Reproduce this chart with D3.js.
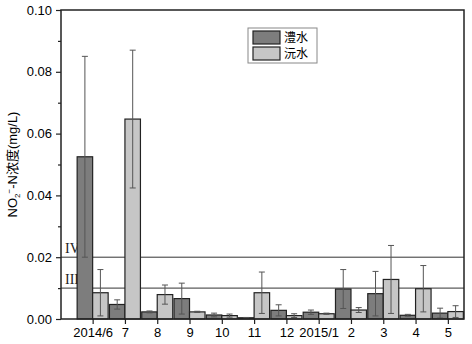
<!DOCTYPE html>
<html>
<head>
<meta charset="utf-8">
<script src="https://cdn.jsdelivr.net/npm/d3@7"></script>
<style>
  body { margin: 0; background: #fff; }
  text { font-family: Arial, "Liberation Sans", sans-serif; }
</style>
</head>
<body>
<svg id="chart" width="472" height="344"></svg>
<script>
// categories along the x axis
var months = ["2014/6", "7", "8", "9", "10", "11", "12", "2015/1", "2", "3", "4", "5"];
// 澧水 (dark) and 沅水 (light) means, with error half-widths
var liValues = [0.0525, 0.0047, 0.0023, 0.0066, 0.0013, 0.0004, 0.0028, 0.0022, 0.0097, 0.0082, 0.0012, 0.0019];
var liErrors = [0.0325, 0.0015, 0.0003, 0.0050, 0.0006, 0.0001, 0.0018, 0.0007, 0.0063, 0.0072, 0.0003, 0.0016];
var yuanValues = [0.0085, 0.0647, 0.0079, 0.0023, 0.0011, 0.0085, 0.0011, 0.0017, 0.0029, 0.0128, 0.0098, 0.0024];
var yuanErrors = [0.0075, 0.0223, 0.0031, 0.0002, 0.0005, 0.0067, 0.0006, 0.0002, 0.0008, 0.0110, 0.0075, 0.0019];
var seriesNames = ["澧水", "沅水"];
var yTicks = [0, 0.02, 0.04, 0.06, 0.08, 0.10];
var limits = [{label: "IV", value: 0.02}, {label: "III", value: 0.01}];

var svg = d3.select("#chart"),
    margin = {top: 10, right: 8, bottom: 25, left: 61},
    width = +svg.attr("width") - margin.left - margin.right,
    height = +svg.attr("height") - margin.top - margin.bottom,
    g = svg.append("g").attr("transform", "translate(" + margin.left + "," + margin.top + ")");

var x = d3.scaleLinear().domain([-0.98, 11.5]).range([0, width]);
var y = d3.scaleLinear().domain([0, 0.10]).range([height, 0]);
var step = x(1) - x(0),
    barW = step * 0.48;

var colors = ["#7d7d7d", "#c6c6c6"];
var series = [
  {values: liValues, errors: liErrors, offset: -barW},
  {values: yuanValues, errors: yuanErrors, offset: 0}
];

// limit lines
g.selectAll(".limit")
    .data(limits)
    .enter().append("line")
    .attr("x1", 0).attr("x2", width)
    .attr("y1", function (d) { return y(d.value); })
    .attr("y2", function (d) { return y(d.value); })
    .attr("stroke", "#333").attr("stroke-width", 1);

g.selectAll(".limit-label")
    .data(limits)
    .enter().append("text")
    .attr("x", 4)
    .attr("y", function (d) { return y(d.value) - 4; })
    .attr("font-size", 14)
    .attr("fill", "#222")
    .style("font-family", "'Liberation Serif', serif")
    .text(function (d) { return d.label; });

// bars
series.forEach(function (s, k) {
  g.append("g").selectAll("rect")
      .data(s.values)
      .enter().append("rect")
      .attr("x", function (d, i) { return x(i) + s.offset; })
      .attr("y", function (d) { return y(d); })
      .attr("width", barW)
      .attr("height", function (d) { return y(0) - y(d); })
      .attr("fill", colors[k])
      .attr("stroke", "#222")
      .attr("stroke-width", 1.2);

  var eb = g.append("g").attr("stroke", "#555").attr("stroke-width", 1);
  s.values.forEach(function (v, i) {
    var cx = x(i) + s.offset + barW / 2,
        hi = y(v + s.errors[i]),
        lo = y(Math.max(0, v - s.errors[i]));
    eb.append("line").attr("x1", cx).attr("x2", cx).attr("y1", hi).attr("y2", lo);
    eb.append("line").attr("x1", cx - 3).attr("x2", cx + 3).attr("y1", hi).attr("y2", hi);
    eb.append("line").attr("x1", cx - 3).attr("x2", cx + 3).attr("y1", lo).attr("y2", lo);
  });
});

// frame
g.append("rect")
    .attr("width", width).attr("height", height)
    .attr("fill", "none").attr("stroke", "#222").attr("stroke-width", 1.5);

// y axis
var yAxis = g.append("g")
    .call(d3.axisLeft(y).tickValues(yTicks).tickFormat(d3.format(".2f")).tickSize(5).tickPadding(4));
yAxis.select(".domain").remove();
yAxis.selectAll("text").attr("font-size", 13).attr("fill", "#000").style("font-family", "Arial, 'Liberation Sans'");
yAxis.selectAll("line").attr("stroke", "#222").attr("stroke-width", 1.2);
g.append("g")
    .call(d3.axisLeft(y).tickValues([0.01, 0.03, 0.05, 0.07, 0.09]).tickFormat("").tickSize(3))
    .call(function (a) { a.select(".domain").remove(); a.selectAll("line").attr("stroke", "#222").attr("stroke-width", 1.2); });

// x axis
var xAxis = g.append("g")
    .attr("transform", "translate(0," + height + ")")
    .call(d3.axisBottom(x).tickValues(d3.range(months.length)).tickFormat(function (i) { return months[i]; }).tickSize(5).tickPadding(4));
xAxis.select(".domain").remove();
xAxis.selectAll("text").attr("font-size", 13).attr("fill", "#000").style("font-family", "Arial, 'Liberation Sans'");
xAxis.selectAll("line").attr("stroke", "#222").attr("stroke-width", 1.2);

// y title
var title = svg.append("text")
    .attr("transform", "translate(17," + (margin.top + height / 2) + ") rotate(-90)")
    .attr("text-anchor", "middle")
    .attr("font-size", 13)
    .style("font-family", "Arial, 'Noto Sans CJK SC'");
title.append("tspan").text("NO");
title.append("tspan").attr("font-size", 8).attr("dy", 3).text("2");
title.append("tspan").attr("font-size", 8).attr("dy", -8).text("−");
title.append("tspan").attr("dy", 5).text("-N浓度(mg/L)");

// legend
var legend = svg.append("g").attr("transform", "translate(248,28)");
legend.append("rect")
    .attr("width", 69).attr("height", 35)
    .attr("fill", "#fff").attr("stroke", "#888").attr("stroke-width", 1);
legend.selectAll(".sw")
    .data(seriesNames)
    .enter().append("rect")
    .attr("x", 5).attr("y", function (d, i) { return 3 + i * 16; })
    .attr("width", 27).attr("height", 13)
    .attr("fill", function (d, i) { return colors[i]; })
    .attr("stroke", "#222").attr("stroke-width", 1.2);
legend.selectAll(".lab")
    .data(seriesNames)
    .enter().append("text")
    .attr("x", 36).attr("y", function (d, i) { return 14 + i * 16; })
    .attr("font-size", 12)
    .style("font-family", "'Noto Sans CJK SC', sans-serif")
    .text(function (d) { return d; });
</script>
</body>
</html>
